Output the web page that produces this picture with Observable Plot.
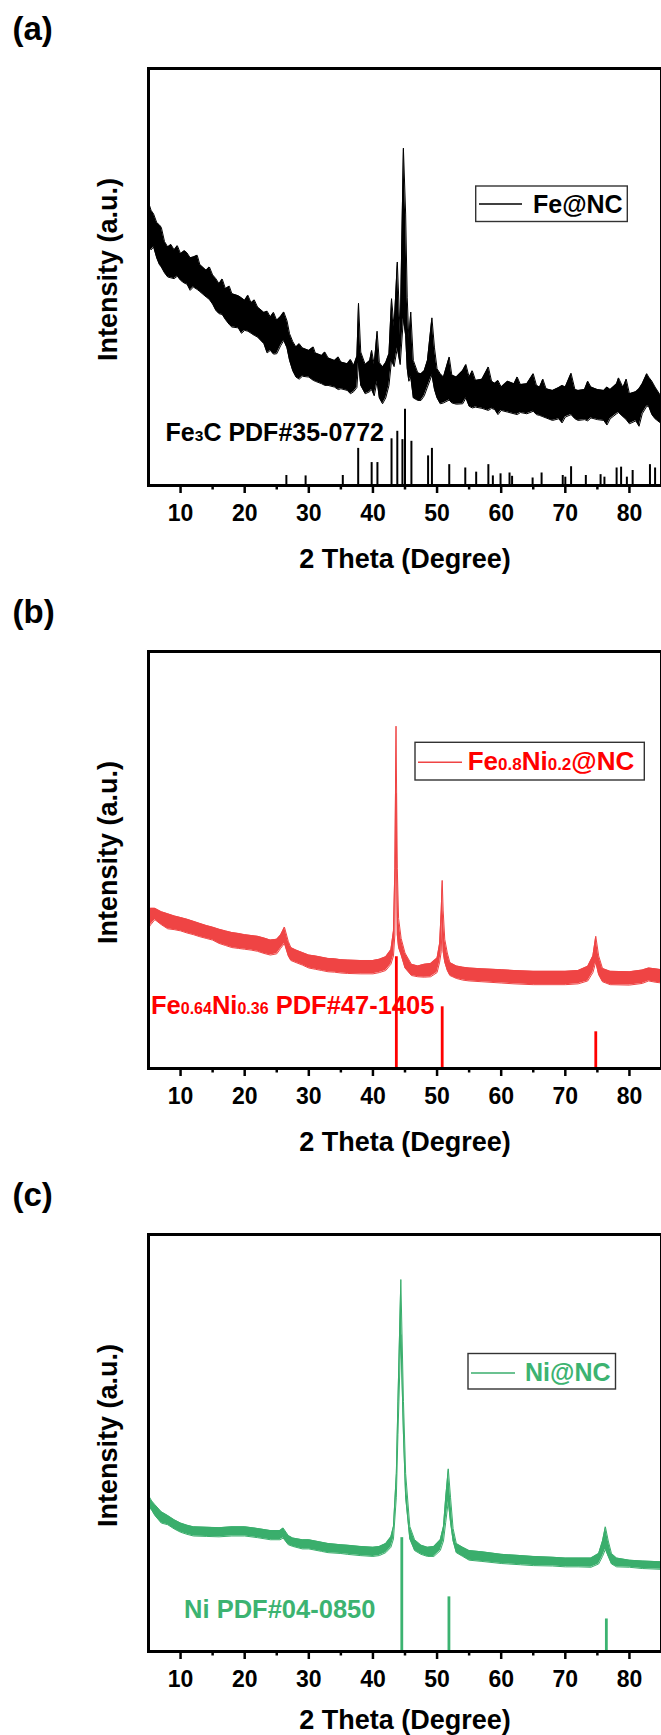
<!DOCTYPE html>
<html><head><meta charset="utf-8">
<script src="https://cdn.jsdelivr.net/npm/d3@7"></script>
<script src="https://cdn.jsdelivr.net/npm/@observablehq/plot@0.6"></script>
<style>
html,body{margin:0;padding:0;background:#fff;overflow:hidden;width:661px;}
svg{display:block}
text{white-space:pre}
</style></head><body><div id="chart"></div>
<script>
// ---------- data ----------
const xDomain = [5, 85];
const majorTicks = [10, 20, 30, 40, 50, 60, 70, 80];
const minorTicks = [15, 25, 35, 45, 55, 65, 75];
const xTitle = "2 Theta (Degree)";
const yTitle = "Intensity (a.u.)";
const panelTags = ["(a)", "(b)", "(c)"];

// scan envelopes: [2theta, upper edge, lower edge] (a.u., 0–100 frame height)
const scanA = [
 [5.0,67.9,58.0],[5.4,66.0,56.5],[5.8,65.1,57.2],[6.3,63.0,54.5],[6.7,62.5,53.0],[7.0,61.9,52.4],[7.5,58.5,51.0],
 [8.0,57.2,50.0],[8.5,57.8,49.8],[9.0,56.5,49.6],[9.5,57.5,50.2],[10.0,55.6,49.2],[10.6,56.3,48.5],[11.0,55.8,48.3],
 [11.5,54.6,46.8],[12.0,54.8,47.6],[12.6,55.2,47.0],[13.0,53.0,46.5],[14.0,51.6,45.2],[14.5,52.4,44.6],[15.0,50.5,43.5],
 [15.5,49.6,42.0],[16.0,48.4,41.2],[16.5,49.5,41.0],[17.0,47.2,39.8],[17.6,47.8,38.6],[18.0,46.0,38.0],[19.0,45.5,37.8],
 [19.5,45.0,36.5],[20.0,44.4,37.2],[20.5,45.6,37.0],[21.0,43.8,36.5],[21.5,44.5,36.0],[22.0,42.8,35.6],[23.0,41.5,34.0],
 [23.5,41.8,31.8],[24.0,40.4,32.4],[24.5,41.5,31.5],[25.0,39.6,31.6],[25.6,40.5,33.5],[26.1,41.6,34.8],[26.6,39.5,33.0],
 [27.0,36.4,30.0],[27.5,34.5,27.5],[28.0,33.2,26.0],[28.5,34.0,25.5],[29.0,33.0,26.2],[30.0,32.4,26.0],[30.7,33.2,25.2],
 [31.0,31.8,25.0],[32.0,31.2,24.4],[32.5,32.0,24.0],[33.0,30.6,24.0],[34.0,30.0,23.6],[34.6,30.8,23.0],[35.0,29.6,23.2],
 [36.0,29.2,22.8],[36.5,30.2,22.0],[37.0,28.8,22.5],[37.5,31.0,23.5],
 [37.75,43.7,29.5],[38.1,32.0,24.0],[38.8,29.0,22.0],[39.5,30.0,22.5],[39.8,32.4,23.0],[40.2,29.0,21.5],[40.65,37.0,25.0],
 [41.0,29.5,21.0],[41.5,28.4,19.6],[42.0,29.5,21.0],[42.5,31.6,24.0],[42.9,44.8,30.0],[43.3,38.0,28.5],[43.8,53.6,33.0],
 [44.25,36.0,29.0],[44.75,80.9,40.0],[45.1,65.1,36.0],[45.35,45.0,28.0],[45.6,35.0,25.0],[45.9,41.6,26.0],[46.3,30.0,21.0],
 [47.0,27.0,20.4],[47.5,26.8,20.4],[48.0,27.5,21.5],[48.5,30.0,23.6],[49.2,40.2,26.5],[49.6,33.0,23.0],[50.0,28.0,21.0],
 [50.5,26.8,19.6],[51.0,26.0,19.8],[51.9,30.8,20.5],[52.3,26.5,19.8],[53.0,26.0,19.5],[54.0,27.6,19.6],[54.5,29.0,21.0],
 [55.0,26.0,19.0],[55.5,27.5,18.6],[56.0,25.2,18.8],[57.0,25.5,18.5],[58.0,28.4,18.0],[58.5,25.0,18.5],[59.0,24.5,18.2],
 [59.5,25.2,17.0],[60.0,23.6,18.0],[61.0,25.0,17.6],[62.0,24.4,17.2],[62.5,26.0,17.0],[63.0,24.2,17.5],[64.0,24.4,17.2],
 [65.0,26.8,17.8],[65.5,24.0,17.0],[66.0,23.6,16.8],[66.5,25.5,16.5],[67.0,23.2,16.2],[68.0,22.8,15.6],[69.0,23.5,16.0],
 [69.5,24.0,15.0],[70.0,23.6,16.4],[70.9,26.9,17.0],[71.5,23.0,16.0],[72.0,22.8,15.6],[73.0,23.0,15.8],[73.5,25.0,15.5],
 [74.0,23.6,16.2],[75.0,23.0,15.8],[76.0,22.8,15.6],[76.5,23.6,14.5],[77.0,23.0,16.0],[78.0,24.4,17.2],[78.3,25.8,17.5],
 [79.0,23.5,16.5],[79.5,25.5,15.8],[80.0,22.0,14.8],[81.0,22.5,15.5],[81.5,23.2,14.2],[82.0,24.4,17.2],[82.7,26.8,19.0],
 [83.0,26.0,19.0],[83.5,25.0,17.0],[84.0,23.6,16.0],[85.0,21.2,14.8]
];
const scanB = [
 [5.0,37.5,33.6],[5.3,38.4,34.4],[6.0,38.4,35.7],[7.0,37.6,34.5],[8.0,37.1,33.5],[9.0,36.6,33.3],[10.0,36.2,33.0],
 [11.0,35.8,32.5],[12.0,35.3,32.1],[13.0,34.8,31.6],[14.0,34.3,31.2],[15.0,33.9,30.8],[16.0,33.4,30.0],[17.0,33.0,29.5],
 [18.0,32.6,29.0],[19.0,32.4,28.8],[20.0,32.1,28.6],[21.0,31.9,28.4],[22.0,31.7,28.1],[23.0,31.3,27.6],[24.0,30.8,27.2],
 [25.0,31.0,27.5],[25.6,32.0,28.8],[26.2,33.9,30.0],[26.8,30.5,27.0],[27.2,29.0,25.9],[28.0,28.4,25.4],[29.0,27.8,24.8],
 [30.0,27.2,24.1],[31.0,27.0,23.8],[32.0,26.7,23.5],[33.0,26.4,23.2],[34.0,26.3,23.1],[35.0,26.1,22.9],[36.0,26.0,22.8],
 [38.0,25.9,22.7],[40.0,25.9,22.7],[41.0,26.2,23.0],[42.0,26.8,23.5],[42.8,28.5,25.0],[43.2,33.0,27.0],[43.42,48.0,32.0],
 [43.6,82.1,66.0],[43.8,48.0,32.0],[44.0,36.0,29.0],[44.4,31.2,27.2],[45.0,27.7,24.1],[46.0,25.0,22.3],[47.0,24.6,22.0],
 [48.0,25.0,21.9],[49.0,25.2,22.0],[50.0,26.5,23.0],[50.4,30.0,25.5],[50.65,38.0,28.0],[50.8,45.1,36.0],[50.95,38.0,28.0],
 [51.2,31.0,25.5],[51.6,27.7,23.5],[52.0,25.4,22.3],[53.0,24.6,21.6],[54.0,24.3,21.2],[55.0,24.1,21.0],[57.0,23.9,20.8],
 [60.0,23.7,20.5],[62.0,23.5,20.3],[65.0,23.3,20.1],[70.0,23.3,20.1],[72.0,23.5,20.3],[73.5,24.5,21.0],[74.3,27.0,23.0],
 [74.75,31.7,25.5],[75.2,27.0,22.5],[75.8,24.0,20.8],[77.0,23.3,20.1],[80.0,23.2,20.0],[82.0,23.6,20.4],[83.0,24.1,21.0],
 [84.0,23.9,20.7],[85.0,23.7,20.5]
];
const scanC = [
 [5.0,37.4,34.8],[5.5,36.1,33.9],[6.0,35.2,32.6],[7.0,33.5,30.8],[8.0,32.6,30.4],[9.0,31.6,29.4],[10.0,30.8,28.6],
 [11.0,30.3,28.1],[12.0,29.9,27.7],[14.0,29.8,27.6],[16.0,29.7,27.5],[18.0,29.9,27.7],[20.0,29.9,27.7],[22.0,29.5,27.3],
 [24.0,29.0,26.8],[25.5,29.0,26.8],[26.0,29.6,27.2],[26.8,27.8,25.6],[27.5,27.2,25.2],[29.0,26.8,24.6],[30.0,26.8,24.6],
 [32.0,26.2,24.0],[33.0,25.9,23.7],[35.0,25.6,23.5],[36.0,25.5,23.3],[38.0,25.2,23.0],[40.0,25.0,22.8],[41.0,25.2,23.0],
 [42.0,25.9,23.7],[42.8,27.5,25.0],[43.2,30.0,27.0],[43.65,42.7,37.0],[43.9,60.0,52.0],[44.35,89.2,76.0],[44.76,60.0,52.0],
 [45.1,42.7,37.0],[45.75,30.0,27.0],[46.5,26.8,24.2],[47.5,25.5,23.3],[48.5,25.0,22.8],[49.5,25.2,22.8],[50.5,26.8,24.2],
 [51.0,30.0,26.5],[51.35,37.0,31.0],[51.75,43.8,36.0],[52.1,37.0,31.0],[52.5,29.5,26.5],[53.0,25.9,23.7],[54.0,25.0,22.8],
 [55.0,24.2,21.9],[57.0,23.9,21.6],[60.0,23.3,21.1],[63.0,23.0,20.8],[65.0,22.8,20.6],[68.0,22.6,20.5],[70.0,22.4,20.3],
 [72.0,22.4,20.3],[74.0,22.4,20.2],[75.2,23.5,21.0],[75.8,26.5,22.8],[76.25,29.9,24.5],[76.7,26.5,22.8],[77.2,23.5,21.0],
 [78.0,22.4,20.3],[80.0,21.9,20.2],[82.0,21.7,19.9],[85.0,21.5,19.7]
];

// reference (PDF card) stick positions and heights
const stickThetaA = [26.5,29.5,35.3,37.7,39.8,40.7,42.9,43.8,44.6,45.0,46.0,48.6,49.2,51.9,54.4,56.1,58.0,58.7,59.9,61.3,
  61.7,64.9,66.3,69.6,70.0,70.9,73.2,75.5,76.1,78.0,78.7,79.6,80.5,83.2,84.0];
const stickHeightA = [2.4,2.3,2.4,8.9,5.5,5.5,11.2,13.0,11.0,18.3,10.6,7.1,8.9,5.0,4.2,3.2,5.0,2.3,2.8,3.0,
  2.2,1.8,3.0,2.4,2.0,4.5,2.4,2.6,2.0,4.2,4.4,2.0,3.6,5.0,4.2];
const stickThetaB = [43.65, 50.8, 74.75];
const stickHeightB = [26.8, 14.8, 8.8];
const stickThetaC = [44.5, 51.85, 76.4];
const stickHeightC = [27.3, 13.1, 7.8];

// series names (legend) and card labels, as [text, isSubscript] pieces
const seriesA = [["Fe@NC", 0]];
const seriesB = [["Fe", 0], ["0.8", 1], ["Ni", 0], ["0.2", 1], ["@NC", 0]];
const seriesC = [["Ni@NC", 0]];
const cardA = [["Fe", 0], ["3", 1], ["C PDF#35-0772", 0]];
const cardB = [["Fe", 0], ["0.64", 1], ["Ni", 0], ["0.36", 1], [" PDF#47-1405", 0]];
const cardC = [["Ni PDF#04-0850", 0]];
// where the card label starts (2theta, intensity)
const cardAtA = [7.74, 10.55];
const cardAtB = [5.47, 12.9];
const cardAtC = [10.63, 7.8];

// ---------- layout & style ----------
const FONT = "'Liberation Sans', Arial, Helvetica, sans-serif";
const W = 661, H = 583;
const M = {top: 68, right: 0, bottom: 98, left: 148};

const panels = [
  {tag: panelTags[0], scan: scanA, curve: "#000000", edge: 1, sT: stickThetaA, sH: stickHeightA, stick: "#000000", sW: 2,
   text: "#000000", card: cardA, cardAt: cardAtA, cardSize: 25, cardSub: 15.5, series: seriesA, titleDy: 82,
   leg: {x: 475.7, y: 186, w: 151.6, h: 35.5, x1: 479, x2: 522, ly: 204, tx: 533, ty: 212.7, size: 25, sub: 16, line: "#000000"}},
  {tag: panelTags[1], scan: scanB, curve: "#ef4444", edge: 1, sT: stickThetaB, sH: stickHeightB, stick: "#ff0000", sW: 2.8,
   text: "#ff0000", card: cardB, cardAt: cardAtB, cardSize: 25.5, cardSub: 16, series: seriesB, titleDy: 82,
   leg: {x: 415, y: 159.3, w: 229.3, h: 37.7, x1: 418, x2: 462, ly: 179.3, tx: 467.7, ty: 187, size: 26, sub: 17, line: "#ef4444"}},
  {tag: panelTags[2], scan: scanC, curve: "#3aae6c", edge: 1, sT: stickThetaC, sH: stickHeightC, stick: "#3cb371", sW: 2.8,
   text: "#3cb371", card: cardC, cardAt: cardAtC, cardSize: 25.5, cardSub: 16, series: seriesC, titleDy: 77,
   leg: {x: 468, y: 187.5, w: 147.5, h: 35.5, x1: 471, x2: 515, ly: 207, tx: 525, ty: 215, size: 25, sub: 16, line: "#3aae6c"}}
];

function richText(sel, x, y, parts, fill, size, sub) {
  const t = sel.append("text")
    .attr("x", x).attr("y", y)
    .attr("text-anchor", "start")
    .attr("fill", fill)
    .attr("font-family", FONT)
    .attr("font-weight", "bold")
    .attr("font-size", size);
  for (const [s, small] of parts) t.append("tspan").attr("font-size", small ? sub : size).text(s);
  return t;
}

const hasAxis = typeof Plot.axisX === "function";
const root = document.getElementById("chart");

for (const p of panels) {
  const rows = p.scan.map(([theta, hi, lo]) => ({theta, hi, lo}));
  const sticks = p.sT.map((theta, i) => ({theta, h: p.sH[i]}));
  const marks = [
    Plot.areaY(rows, {x: "theta", y1: "lo", y2: "hi", fill: p.curve, curve: "linear"}),
    Plot.line(rows, {x: "theta", y: "hi", stroke: p.curve, strokeWidth: p.edge}),
    Plot.line(rows, {x: "theta", y: "lo", stroke: p.curve, strokeWidth: p.edge}),
    Plot.ruleX(sticks, {x: "theta", y1: 0, y2: "h", stroke: p.stick, strokeWidth: p.sW}),
    Plot.frame({stroke: "#000", strokeWidth: 3}),
    Plot.text([p.tag], {frameAnchor: "top-left", dx: -136, dy: -28.5, textAnchor: "start", lineAnchor: "bottom",
      fontSize: 33, fontWeight: "bold", fill: "#000"}),
    Plot.text([yTitle], {frameAnchor: "left", rotate: -90, dx: -40.5, dy: -7.5, textAnchor: "middle", lineAnchor: "middle",
      fontSize: 27, fontWeight: "bold", fill: "#000"}),
    Plot.text([xTitle], {frameAnchor: "bottom", dy: p.titleDy, textAnchor: "middle", lineAnchor: "bottom",
      fontSize: 27, fontWeight: "bold", fill: "#000"})
  ];
  if (hasAxis) {
    marks.push(Plot.axisX(majorTicks, {tickSize: 8, tickPadding: 11, strokeWidth: 2.5, fontSize: 23, fontWeight: "bold",
      label: null, tickFormat: d => String(d)}));
    marks.push(Plot.axisX(minorTicks, {tickSize: 4.5, strokeWidth: 2.5, label: null, tickFormat: () => ""}));
  }
  const svg = Plot.plot({
    width: W, height: H,
    marginTop: M.top, marginRight: M.right, marginBottom: M.bottom, marginLeft: M.left,
    x: hasAxis ? {domain: xDomain} : {domain: xDomain, ticks: majorTicks, tickSize: 8, tickPadding: 11, label: null},
    y: {domain: [0, 100], axis: null},
    style: {background: "white", color: "black", fontFamily: FONT, fontSize: "23px", fontWeight: "bold", overflow: "visible"},
    marks
  });
  const sx = svg.scale("x"), sy = svg.scale("y");
  const g = d3.select(svg);
  // card label
  richText(g, sx.apply(p.cardAt[0]), sy.apply(p.cardAt[1]), p.card, p.text, p.cardSize, p.cardSub);
  // legend
  const L = p.leg;
  g.append("rect").attr("x", L.x).attr("y", L.y).attr("width", L.w).attr("height", L.h)
    .attr("fill", "white").attr("stroke", "#333").attr("stroke-width", 1.4);
  g.append("line").attr("x1", L.x1).attr("x2", L.x2).attr("y1", L.ly).attr("y2", L.ly)
    .attr("stroke", L.line).attr("stroke-width", 1.5);
  richText(g, L.tx, L.ty, p.series, p.text, L.size, L.sub);
  root.appendChild(svg);
}
</script></body></html>
